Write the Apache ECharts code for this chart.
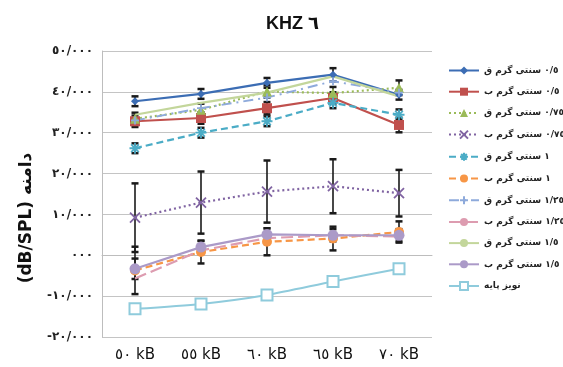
<!DOCTYPE html>
<html>
<head>
<meta charset="utf-8">
<script src="https://cdn.jsdelivr.net/npm/echarts@6/dist/echarts.min.js"></script>
<style>
  html, body { margin: 0; padding: 0; background: #fff; }
  #main { width: 563px; height: 367px; }
</style>
</head>
<body>
<div id="main"></div>
<script>
// categories (x axis)
var categories = ['٥٠ kB', '٥٥ kB', '٦٠ kB', '٦٥ kB', '٧٠ kB']

// y ticks and their labels
var yTicks = [-20, -10, 0, 10, 20, 30, 40, 50]
var yTickLabels = ['-٢٠/٠٠٠', '-١٠/٠٠٠', '٠٠٠', '١٠/٠٠٠', '٢٠/٠٠٠', '٣٠/٠٠٠', '٤٠/٠٠٠', '٥٠/٠٠٠']

// series names
var names = [
  '٠/٥ سنتی گرم ق',
  '٠/٥ سنتی گرم ب',
  '٠/٧٥ سنتی گرم ق',
  '٠/٧٥ سنتی گرم ب',
  '١ سنتی گرم ق',
  '١ سنتی گرم ب',
  '١/٢٥ سنتی گرم ق',
  '١/٢٥ سنتی گرم ب',
  '١/٥ سنتی گرم ق',
  '١/٥ سنتی گرم ب',
  'نویز پایه'
]

// values
var s05q = [37.7, 39.5, 42.2, 44.2, 39.3]
var s05b = [32.8, 33.6, 36.0, 38.5, 31.9]
var s075q = [33.4, 35.6, 40.1, 39.7, 41.0]
var s075b = [9.2, 12.9, 15.6, 16.9, 15.2]
var s1q = [26.2, 30.0, 32.8, 37.3, 34.4]
var s1b = [-3.7, 0.8, 3.3, 4.1, 5.7]
var s125q = [33.0, 36.0, 38.6, 42.6, 39.8]
var s125b = [-5.7, 1.2, 4.2, 4.9, 4.6]
var s15q = [34.4, 37.3, 39.8, 43.8, 38.9]
var s15b = [-3.3, 2.0, 5.1, 4.9, 4.9]
var noise = [-13.1, -11.9, -9.7, -6.4, -3.3]

// error bar half widths
var e05q = [1.2, 1.2, 1.2, 1.6, 1.2]
var e05b = [1.4, 1.4, 1.5, 1.4, 1.8]
var e075q = [1.5, 1.5, 1.5, 1.5, 1.8]
var e075b = [8.4, 7.6, 7.6, 6.6, 5.7]
var e1q = [1.2, 1.2, 1.2, 1.3, 1.3]
var e1b = [5.8, 2.8, 3.3, 2.9, 2.6]
var e15b = [2.5, 1.5, 1.5, 1.5, 1.5]

var colors = ['#3c6db4', '#c0504d', '#9bbb59', '#8064a2', '#4bacc6', '#f79646',
  '#8eaadb', '#dd9cb0', '#c3d69b', '#ab9ac8', '#8fcbdc']

var X_PATH = 'path://M0,0L10,10M10,0L0,10'
var STAR_PATH = 'path://M5,0L5,10M0,5L10,5M1.5,1.5L8.5,8.5M8.5,1.5L1.5,8.5'
var PLUS_PATH = 'path://M5,0L5,10M0,5L10,5'

function lineSeries(i, data, type, width, symbol, size, stroke) {
  var s = {
    name: names[i],
    type: 'line',
    data: data,
    symbol: symbol,
    symbolSize: size,
    showSymbol: symbol !== 'none',
    lineStyle: { color: colors[i], width: width, type: type },
    itemStyle: { color: colors[i] },
    z: 3
  }
  if (stroke) {
    s.itemStyle = { color: 'rgba(0,0,0,0)', borderColor: colors[i], borderWidth: 1.8 }
  }
  return s
}

function errSeries(vals, errs) {
  var d = vals.map(function (v, i) { return [i, v - errs[i], v + errs[i]] })
  return {
    type: 'custom',
    silent: true,
    z: 2,
    data: d,
    renderItem: function (params, api) {
      var lo = api.coord([api.value(0), api.value(1)])
      var hi = api.coord([api.value(0), api.value(2)])
      var w = 3.5
      var st = { stroke: '#1a1a1a', lineWidth: 1.6 }
      return {
        type: 'group',
        children: [
          { type: 'line', shape: { x1: lo[0], y1: lo[1], x2: hi[0], y2: hi[1] }, style: st },
          { type: 'line', shape: { x1: lo[0] - w, y1: lo[1], x2: lo[0] + w, y2: lo[1] }, style: { stroke: '#1a1a1a', lineWidth: 2.5 } },
          { type: 'line', shape: { x1: hi[0] - w, y1: hi[1], x2: hi[0] + w, y2: hi[1] }, style: { stroke: '#1a1a1a', lineWidth: 2.5 } }
        ]
      }
    }
  }
}

var series = [
  errSeries(s05q, e05q),
  errSeries(s05b, e05b),
  errSeries(s075q, e075q),
  errSeries(s075b, e075b),
  errSeries(s1q, e1q),
  errSeries(s1b, e1b),
  errSeries(s15b, e15b),
  lineSeries(0, s05q, 'solid', 2.2, 'diamond', 8),
  lineSeries(1, s05b, 'solid', 2.2, 'rect', 10),
  lineSeries(2, s075q, [2, 3], 2.2, 'triangle', 10),
  lineSeries(3, s075b, [2, 3], 2.2, X_PATH, 10, true),
  lineSeries(4, s1q, [7, 4], 2.2, STAR_PATH, 11, true),
  lineSeries(5, s1b, [7, 4], 2.2, 'circle', 10),
  lineSeries(6, s125q, [10, 5, 2, 5], 2, PLUS_PATH, 8, true),
  lineSeries(7, s125b, [12, 5], 2.2, 'none', 0),
  lineSeries(8, s15q, 'solid', 2.2, 'none', 0),
  lineSeries(9, s15b, 'solid', 2.2, 'circle', 11),
  lineSeries(10, noise, 'solid', 2, 'emptyRect', 11)
]
series[series.length - 1].smooth = 0.25
series[series.length - 1].itemStyle = { color: colors[10], borderWidth: 1.5 }

var chart = echarts.init(document.getElementById('main'), null, { renderer: 'canvas' })
var option = {
  backgroundColor: '#fff',
  animation: false,
  textStyle: { fontFamily: 'DejaVu Sans, Noto Sans, sans-serif' },
  title: {
    text: 'KHZ ٦',
    left: 261,
    top: 10,
    textStyle: { fontSize: 18, fontWeight: 'bold', color: '#111', fontFamily: 'Liberation Sans, DejaVu Sans, sans-serif' }
  },
  legend: {
    orient: 'vertical',
    left: 443,
    top: 61,
    itemWidth: 30,
    itemHeight: 10,
    itemGap: 12.2,
    data: names,
    textStyle: { fontSize: 9, color: '#222', fontWeight: 'bold' }
  },
  grid: { left: 102, right: 131, top: 51, bottom: 30 },
  xAxis: {
    type: 'category',
    data: categories,
    axisLine: { lineStyle: { color: '#bdbdbd' } },
    axisTick: { show: false },
    axisLabel: { fontSize: 15, color: '#111', margin: 11, fontFamily: 'DejaVu Sans, sans-serif' }
  },
  yAxis: {
    type: 'value',
    min: -20,
    max: 50,
    interval: 10,
    axisLine: { show: true, lineStyle: { color: '#bdbdbd' } },
    axisTick: { show: false },
    splitLine: { lineStyle: { color: '#c4c4c4', width: 1 } },
    axisLabel: {
      fontSize: 12,
      fontWeight: 'bold',
      color: '#222',
      margin: 9,
      formatter: function (v) {
        var k = yTicks.indexOf(v)
        return k >= 0 ? yTickLabels[k] : ''
      }
    }
  },
  graphic: [{
    type: 'text',
    x: 27,
    y: 218,
    rotation: Math.PI / 2,
    style: {
      text: '(dB/SPL) دامنه',
      fontSize: 17,
      fontWeight: 'bold',
      fill: '#111',
      textAlign: 'center',
      textVerticalAlign: 'middle',
      fontFamily: 'DejaVu Sans, sans-serif'
    }
  }],
  series: series
}
chart.setOption(option)
</script>
</body>
</html>
